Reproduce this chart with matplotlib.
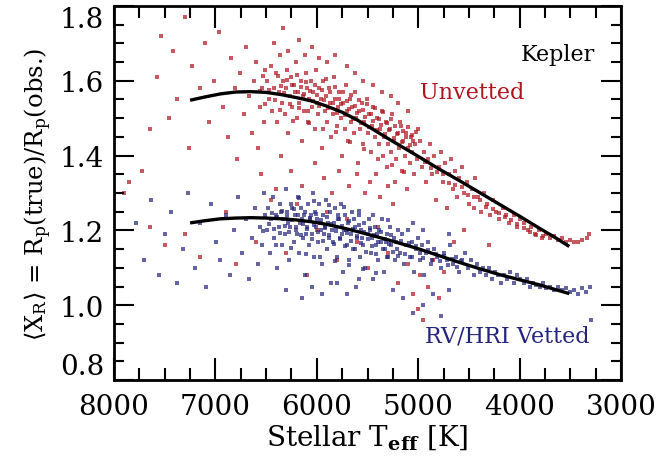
import numpy as np
import matplotlib
matplotlib.use('Agg')
from matplotlib import pyplot as plt
from matplotlib.ticker import MultipleLocator

plt.rcParams['font.family'] = 'DejaVu Serif'
plt.rcParams['mathtext.fontset'] = 'dejavuserif'

# mean radius-correction curves (Teff, <X_R>)
unvetted_curve_teff = [7250, 7100, 6950, 6800, 6650, 6500, 6350, 6200, 6050, 5900, 5750, 5600, 5450,
                       5300, 5150, 5000, 4800, 4600, 4400, 4200, 4000, 3800, 3650, 3510]
unvetted_curve_val = [1.548, 1.557, 1.565, 1.570, 1.571, 1.569, 1.563, 1.555, 1.546, 1.532, 1.516, 1.495,
                      1.471, 1.446, 1.422, 1.398, 1.365, 1.334, 1.302, 1.270, 1.238, 1.205, 1.181, 1.157]
vetted_curve_teff = [7250, 7100, 6950, 6800, 6650, 6500, 6350, 6200, 6050, 5900, 5750, 5600, 5450,
                     5300, 5150, 5000, 4800, 4600, 4400, 4200, 4000, 3800, 3650, 3510]
vetted_curve_val = [1.220, 1.226, 1.231, 1.233, 1.234, 1.233, 1.231, 1.228, 1.223, 1.216, 1.207, 1.197,
                    1.186, 1.175, 1.163, 1.151, 1.133, 1.115, 1.098, 1.082, 1.068, 1.054, 1.042, 1.031]

# individual KOIs, unvetted (Teff, ratio)
red_points = [
    # sparse hot end
    (7720, 1.36), (7650, 1.47), (7580, 1.61), (7540, 1.72), (7460, 1.50), (7420, 1.68), (7380, 1.55),
    (7300, 1.77), (7260, 1.42), (7230, 1.64), (7150, 1.58), (7100, 1.70), (7060, 1.49), (7010, 1.60),
    (6960, 1.73), (6930, 1.53), (6880, 1.45), (6850, 1.66), (6810, 1.58), (6790, 1.39), (6760, 1.62),
    (6720, 1.51), (6700, 1.69), (6670, 1.56), (6640, 1.46), (6620, 1.60), (6600, 1.65), (6580, 1.42),
    (6560, 1.53), (6540, 1.58), (6520, 1.49), (6510, 1.63), (7900, 1.30), (7850, 1.33), (6550, 1.35),
    (6400, 1.31),
    # dense band
    (6490, 1.60), (6470, 1.55), (6450, 1.64), (6440, 1.52), (6420, 1.58), (6400, 1.62), (6390, 1.49),
    (6370, 1.57), (6360, 1.67), (6340, 1.54), (6330, 1.60), (6310, 1.51), (6300, 1.58), (6290, 1.63),
    (6280, 1.46), (6260, 1.56), (6250, 1.61), (6240, 1.53), (6230, 1.59), (6210, 1.65), (6200, 1.50),
    (6190, 1.57), (6180, 1.54), (6160, 1.60), (6150, 1.44), (6140, 1.56), (6130, 1.52), (6110, 1.62),
    (6100, 1.58), (6090, 1.49), (6080, 1.55), (6060, 1.60), (6050, 1.53), (6040, 1.57), (6020, 1.47),
    (6010, 1.63), (6000, 1.54), (5990, 1.51), (5980, 1.58), (5960, 1.55), (5950, 1.42), (5940, 1.60),
    (5920, 1.52), (5910, 1.56), (5900, 1.49), (5880, 1.58), (5870, 1.54), (5860, 1.45), (5840, 1.51),
    (5830, 1.61), (5820, 1.55), (5800, 1.48), (5790, 1.53), (5780, 1.57), (5760, 1.50), (5750, 1.40),
    (5740, 1.54), (5720, 1.47), (5710, 1.59), (5700, 1.52), (5690, 1.44), (5670, 1.55), (5660, 1.49),
    (5650, 1.53), (5630, 1.46), (5620, 1.57), (5610, 1.50), (5590, 1.38), (5580, 1.52), (5570, 1.47),
    (5550, 1.54), (5540, 1.43), (5530, 1.49), (5510, 1.55), (5500, 1.46), (5490, 1.51), (5470, 1.41),
    (5460, 1.48), (5450, 1.53), (5430, 1.45), (5420, 1.35), (5410, 1.50), (5390, 1.43), (5380, 1.47),
    (5360, 1.52), (5350, 1.40), (5340, 1.45), (5320, 1.49), (5310, 1.37), (5300, 1.43), (5280, 1.47),
    (5270, 1.41), (5260, 1.51), (5240, 1.44), (5230, 1.33), (5220, 1.39), (5200, 1.46), (5190, 1.42),
    (5170, 1.48), (5160, 1.36), (5150, 1.44), (5130, 1.40), (5120, 1.46), (5110, 1.31), (5100, 1.42),
    (5080, 1.38), (5070, 1.45), (5060, 1.41), (5040, 1.35), (5030, 1.43), (5010, 1.39), (5000, 1.47),
    (6468, 1.575), (6412, 1.548), (6386, 1.612), (6354, 1.585), (6322, 1.567), (6297, 1.602), (6268, 1.538),
    (6243, 1.588), (6219, 1.571), (6195, 1.616), (6176, 1.528), (6153, 1.583), (6127, 1.564), (6104, 1.597),
    (6083, 1.519), (6066, 1.572), (6041, 1.545), (6018, 1.589), (5996, 1.561), (5974, 1.532), (5953, 1.576),
    (5931, 1.548), (5912, 1.604), (5889, 1.527), (5866, 1.569), (5843, 1.541), (5825, 1.583), (5804, 1.515),
    (5786, 1.552), (5763, 1.537), (5742, 1.571), (5721, 1.509), (5704, 1.546), (5683, 1.524), (5662, 1.562),
    (5641, 1.497), (5624, 1.532), (5603, 1.515), (5582, 1.548), (5561, 1.486), (5544, 1.522), (5523, 1.503),
    (5502, 1.537), (5483, 1.477), (5465, 1.512), (5444, 1.493), (5426, 1.526), (5405, 1.468), (5387, 1.497),
    (5366, 1.481), (5345, 1.516), (5324, 1.458), (5306, 1.486), (5285, 1.469), (5264, 1.497), (5243, 1.448),
    (5226, 1.478), (5205, 1.457), (5184, 1.489), (5163, 1.437), (5146, 1.465), (5125, 1.449), (5104, 1.476),
    (5085, 1.428), (5066, 1.455), (5047, 1.438), (5025, 1.463), (6233, 1.492), (6078, 1.486), (5942, 1.471),
    (5811, 1.463), (5672, 1.437), (5533, 1.418), (5398, 1.392), (5262, 1.376), (5138, 1.355), (6367, 1.522),
    (6508, 1.537), (6535, 1.612), (6562, 1.573),
    (6420, 1.70), (6330, 1.74), (6280, 1.68), (6180, 1.71), (6120, 1.67), (6050, 1.69), (5980, 1.66),
    (5900, 1.65), (5820, 1.67), (5700, 1.64), (5620, 1.62), (5540, 1.60), (5450, 1.59), (5360, 1.57),
    (5270, 1.56), (5200, 1.54), (5100, 1.52),
    (6350, 1.40), (6250, 1.36), (6150, 1.32), (6020, 1.38), (5930, 1.34), (5850, 1.30), (5780, 1.36),
    (5680, 1.32), (5600, 1.35), (5520, 1.30), (5480, 1.33), (5380, 1.29), (5300, 1.32), (5250, 1.27),
    # cool tail
    (4980, 1.44), (4960, 1.37), (4940, 1.41), (4920, 1.33), (4900, 1.39), (4880, 1.43), (4860, 1.35),
    (4840, 1.40), (4820, 1.28), (4800, 1.37), (4780, 1.41), (4760, 1.33), (4740, 1.38), (4720, 1.26),
    (4700, 1.35), (4680, 1.39), (4660, 1.31), (4640, 1.36), (4620, 1.29), (4600, 1.34), (4570, 1.37),
    (4550, 1.30), (4520, 1.33), (4500, 1.27), (4470, 1.31), (4440, 1.34), (4410, 1.29), (4380, 1.25),
    (4350, 1.30), (4320, 1.27), (4290, 1.24), (4260, 1.28), (4230, 1.25), (4200, 1.23), (4160, 1.26),
    (4130, 1.24), (4100, 1.22), (4060, 1.24), (4030, 1.21), (4000, 1.23), (3960, 1.22), (3920, 1.20),
    (3890, 1.21), (3850, 1.19), (3810, 1.20), (3780, 1.18), (3740, 1.19), (3700, 1.18), (3660, 1.185),
    (3620, 1.175), (3580, 1.18), (3540, 1.17), (3500, 1.175), (3460, 1.17), (3420, 1.168), (3380, 1.175),
    (3340, 1.18), (3320, 1.19),
    (4933, 1.382), (4872, 1.368), (4811, 1.355), (4757, 1.352), (4694, 1.327), (4635, 1.321), (4567, 1.317),
    (4508, 1.296), (4447, 1.288), (4386, 1.282), (4328, 1.262), (4265, 1.258), (4207, 1.247), (4142, 1.236),
    (4085, 1.227), (4021, 1.216), (3958, 1.207), (3897, 1.196), (3836, 1.188), (3773, 1.184),
    # low outliers
    (7650, 1.21), (7500, 1.16), (7300, 1.19), (7150, 1.13), (6900, 1.25), (6800, 1.11), (6600, 1.17),
    (6450, 1.28), (6300, 1.14), (6200, 1.27), (6100, 1.08), (6000, 1.20), (5900, 1.25), (5800, 1.12),
    (5700, 1.23), (5600, 1.17), (5500, 1.10), (5400, 1.21), (5300, 1.14), (5200, 1.06), (5100, 1.11),
    (5050, 1.03), (5000, 0.99), (4980, 1.08), (4950, 0.96), (4900, 1.05), (4850, 1.12), (4800, 1.02),
    (4750, 1.09), (4650, 1.17), (4550, 1.20), (4450, 1.26), (4300, 1.16),
]

# individual KOIs, RV/HRI vetted (Teff, ratio)
blue_points = [
    # sparse hot end
    (7780, 1.22), (7700, 1.12), (7640, 1.28), (7560, 1.08), (7500, 1.19), (7440, 1.25), (7380, 1.06),
    (7320, 1.15), (7270, 1.30), (7200, 1.10), (7150, 1.22), (7090, 1.05), (7040, 1.27), (6990, 1.17),
    (6950, 1.12), (6900, 1.24), (6860, 1.08), (6820, 1.20), (6780, 1.29), (6740, 1.14), (6700, 1.23),
    (6670, 1.07), (6640, 1.18), (6610, 1.26), (6580, 1.11), (6560, 1.21), (6540, 1.16), (6520, 1.30),
    (6510, 1.24),
    # dense band
    (6490, 1.20), (6480, 1.26), (6460, 1.14), (6450, 1.23), (6430, 1.29), (6420, 1.18), (6400, 1.24),
    (6390, 1.10), (6370, 1.21), (6360, 1.27), (6340, 1.16), (6330, 1.23), (6310, 1.19), (6300, 1.31),
    (6290, 1.25), (6270, 1.12), (6260, 1.21), (6250, 1.27), (6230, 1.17), (6220, 1.24), (6210, 1.20),
    (6190, 1.29), (6180, 1.14), (6170, 1.22), (6160, 1.26), (6140, 1.18), (6130, 1.24), (6120, 1.08),
    (6100, 1.21), (6090, 1.27), (6080, 1.16), (6070, 1.23), (6050, 1.19), (6040, 1.30), (6030, 1.13),
    (6020, 1.25), (6010, 1.21), (5990, 1.17), (5980, 1.27), (5970, 1.22), (5950, 1.11), (5940, 1.24),
    (5930, 1.19), (5910, 1.28), (5900, 1.15), (5890, 1.22), (5870, 1.25), (5860, 1.06), (5850, 1.20),
    (5840, 1.17), (5820, 1.26), (5810, 1.21), (5800, 1.13), (5780, 1.23), (5770, 1.18), (5760, 1.27),
    (5740, 1.09), (5730, 1.20), (5720, 1.24), (5700, 1.16), (5690, 1.22), (5680, 1.12), (5660, 1.19),
    (5650, 1.25), (5640, 1.15), (5620, 1.21), (5610, 1.05), (5600, 1.18), (5580, 1.24), (5570, 1.13),
    (5560, 1.20), (5540, 1.16), (5530, 1.22), (5520, 1.10), (5500, 1.19), (5490, 1.23), (5470, 1.14),
    (5460, 1.18), (5450, 1.07), (5430, 1.21), (5420, 1.16), (5400, 1.12), (5390, 1.20), (5370, 1.17),
    (5360, 1.23), (5340, 1.09), (5330, 1.15), (5310, 1.19), (5300, 1.13), (5280, 1.21), (5270, 1.16),
    (5250, 1.04), (5240, 1.18), (5230, 1.12), (5210, 1.15), (5200, 1.20),
    (6350, 1.25), (6280, 1.22), (6200, 1.19), (6150, 1.23), (6060, 1.24), (5960, 1.20), (5880, 1.18),
    (5790, 1.24), (5710, 1.20), (5630, 1.23), (5550, 1.18), (5480, 1.20), (5410, 1.19), (5320, 1.17),
    (6240, 1.26), (6110, 1.19), (6000, 1.23), (5920, 1.21), (5830, 1.22), (5750, 1.19),
    (6472, 1.218), (6443, 1.247), (6418, 1.205), (6391, 1.236), (6366, 1.192), (6342, 1.251), (6318, 1.213),
    (6293, 1.238), (6271, 1.196), (6247, 1.229), (6225, 1.257), (6202, 1.208), (6181, 1.242), (6158, 1.187),
    (6136, 1.218), (6113, 1.249), (6092, 1.203), (6071, 1.232), (6049, 1.176), (6027, 1.214), (6006, 1.243),
    (5984, 1.197), (5963, 1.228), (5941, 1.171), (5922, 1.206), (5899, 1.237), (5877, 1.188), (5856, 1.217),
    (5834, 1.163), (5813, 1.199), (5792, 1.231), (5771, 1.178), (5748, 1.212), (5727, 1.158), (5706, 1.193),
    (5685, 1.226), (5664, 1.171), (5643, 1.204), (5622, 1.149), (5601, 1.186), (5582, 1.214), (5561, 1.166),
    (5539, 1.197), (5518, 1.142), (5497, 1.178), (5476, 1.207), (5455, 1.158), (5434, 1.188), (5413, 1.137),
    (5392, 1.168), (5371, 1.196), (5350, 1.149), (5329, 1.178), (5308, 1.128), (5287, 1.163), (5266, 1.187),
    (5245, 1.141), (5224, 1.169), (5203, 1.132), (6255, 1.152), (6108, 1.137), (5967, 1.128), (5821, 1.118),
    (5684, 1.108), (5548, 1.098), (5412, 1.087), (6398, 1.162), (6534, 1.198), (6176, 1.286), (6023, 1.279),
    (5878, 1.268), (5732, 1.262), (5589, 1.251), (5447, 1.241), (5302, 1.228),
    (6300, 1.04), (6150, 1.02), (6050, 1.05), (5950, 1.03), (5800, 1.06), (5700, 1.03), (5580, 1.07),
    # cool tail
    (5180, 1.14), (5160, 1.19), (5140, 1.11), (5120, 1.16), (5100, 1.20), (5080, 1.13), (5060, 1.17),
    (5040, 1.09), (5020, 1.15), (5000, 1.18), (4980, 1.12), (4960, 1.16), (4940, 1.08), (4920, 1.14),
    (4900, 1.17), (4870, 1.11), (4840, 1.15), (4810, 1.13), (4780, 1.10), (4750, 1.14), (4720, 1.12),
    (4690, 1.16), (4660, 1.11), (4630, 1.13), (4600, 1.09), (4570, 1.12), (4540, 1.14), (4510, 1.10),
    (4480, 1.12), (4450, 1.08), (4420, 1.11), (4390, 1.09), (4360, 1.10), (4330, 1.08), (4300, 1.10),
    (4270, 1.07), (4240, 1.09), (4210, 1.08), (4180, 1.06), (4150, 1.08), (4120, 1.07), (4090, 1.09),
    (4060, 1.06), (4030, 1.08), (4000, 1.07), (3960, 1.06), (3930, 1.07), (3900, 1.05), (3870, 1.06),
    (3840, 1.055), (3800, 1.05), (3770, 1.06), (3740, 1.045), (3700, 1.05), (3660, 1.04), (3620, 1.05),
    (3580, 1.04), (3540, 1.045), (3500, 1.035), (3460, 1.04), (3420, 1.03), (3380, 1.045), (3350, 1.035),
    (3310, 1.05), (5050, 1.22), (4950, 1.20), (4700, 1.19),
    (5172, 1.171), (5133, 1.138), (5094, 1.167), (5061, 1.128), (5022, 1.158), (4987, 1.139), (4948, 1.126),
    (4906, 1.147), (4866, 1.121), (4827, 1.138), (4789, 1.119), (4744, 1.131), (4703, 1.108), (4662, 1.124),
    (4618, 1.102), (4577, 1.118),
    # low outliers
    (5150, 1.02), (5050, 0.98), (4950, 1.00), (4850, 1.03), (4780, 0.97), (4700, 1.04), (3300, 0.96),
]

red_color = '#b0141e'
blue_color = '#24247e'

red = np.array(red_points)
blue = np.array(blue_points)

fig = plt.figure(figsize=(6.58, 4.6), dpi=100)
ax = fig.add_axes([0.1733, 0.1717, 0.7705, 0.8131])

ax.scatter(red[:, 0], red[:, 1], s=6, marker='s', color=red_color, alpha=0.7, linewidths=0)
ax.scatter(blue[:, 0], blue[:, 1], s=6, marker='s', color=blue_color, alpha=0.7, linewidths=0)
ax.plot(unvetted_curve_teff, unvetted_curve_val, color='black', lw=2.4, solid_capstyle='butt')
ax.plot(vetted_curve_teff, vetted_curve_val, color='black', lw=2.4, solid_capstyle='butt')

ax.set_xlim(8000, 3000)
ax.set_ylim(0.8, 1.8)
ax.xaxis.set_major_locator(MultipleLocator(1000))
ax.xaxis.set_minor_locator(MultipleLocator(250))
ax.yaxis.set_major_locator(MultipleLocator(0.2))
ax.yaxis.set_minor_locator(MultipleLocator(0.05))
ax.set_yticks([0.8, 1.0, 1.2, 1.4, 1.6, 1.8])
ax.set_yticklabels(['0.8', '1.0', '1.2', '1.4', '1.6', '1.8'])

ax.tick_params(axis='both', which='both', direction='in', top=True, right=True, width=1.5)
ax.tick_params(axis='x', which='major', length=16, pad=9, labelsize=20)
ax.tick_params(axis='x', which='minor', length=8.5)
ax.tick_params(axis='y', which='major', length=14.5, pad=7, labelsize=20)
ax.tick_params(axis='y', which='minor', length=7.5)
for sp in ax.spines.values():
    sp.set_linewidth(2.0)

ylabs = ax.get_yticklabels()
ylabs[0].set_va('bottom')
ylabs[-1].set_va('top')

ax.set_xlabel(r'Stellar T$_{\bf eff}$ [K]', fontsize=20, labelpad=2)
ax.set_ylabel(r'$\langle$X$_{\rm R}\rangle$ = R$_{\rm p}$(true)/R$_{\rm p}$(obs.)', fontsize=17.5, labelpad=4)

ax.text(0.949, 0.872, 'Kepler', transform=ax.transAxes, ha='right', va='center', fontsize=16, color='black')
ax.text(0.809, 0.770, 'Unvetted', transform=ax.transAxes, ha='right', va='center', fontsize=16, color=red_color)
ax.text(0.939, 0.118, 'RV/HRI Vetted', transform=ax.transAxes, ha='right', va='center', fontsize=16, color=blue_color)

fig.savefig('out.png', dpi=100)
